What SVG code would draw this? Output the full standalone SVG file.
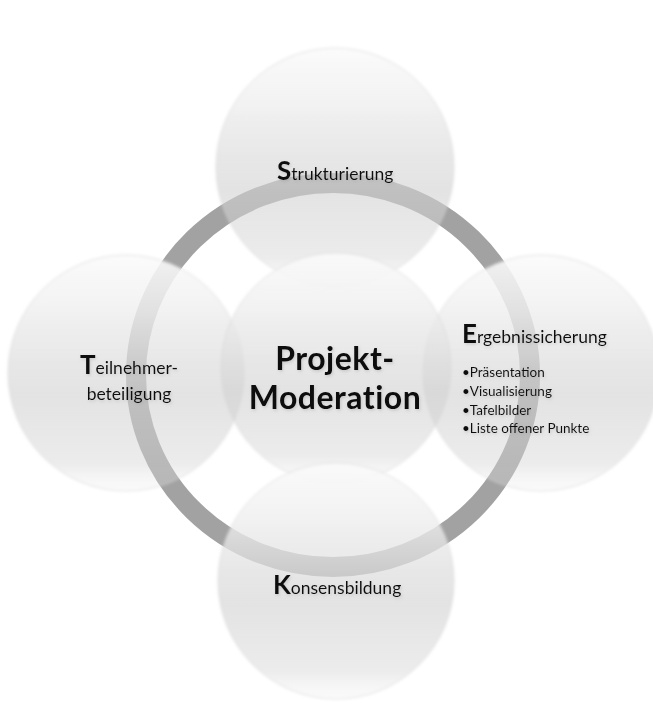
<svg xmlns="http://www.w3.org/2000/svg" width="653" height="714" viewBox="0 0 653 714">
  <defs>
    <linearGradient id="gFill" x1="0" y1="0" x2="0" y2="1">
      <stop offset="0" stop-color="#fbfbfb" stop-opacity="0.9"/>
      <stop offset="0.25" stop-color="#eeeeee" stop-opacity="0.82"/>
      <stop offset="0.6" stop-color="#d2d2d2" stop-opacity="0.62"/>
      <stop offset="0.88" stop-color="#d4d4d4" stop-opacity="0.45"/>
      <stop offset="1" stop-color="#eeeeee" stop-opacity="0.25"/>
    </linearGradient>
    <filter id="soft" x="-10%" y="-10%" width="120%" height="120%">
      <feGaussianBlur stdDeviation="1.4"/>
    </filter>
    <filter id="tshadow" x="-10%" y="-30%" width="120%" height="160%">
      <feDropShadow dx="1" dy="1.5" stdDeviation="1.5" flood-color="#808080" flood-opacity="0.3"/>
    </filter>
    <style>
      .circ { fill: url(#gFill); stroke: #d6d6d6; stroke-opacity: 0.7; stroke-width: 1; filter: url(#soft); }
      .lbl { font-family: Lato, "Liberation Sans", sans-serif; font-size: 17.5px; fill: #111111; filter: url(#tshadow); }
      .ini { font-weight: bold; font-size: 26px; }
      .bul { font-family: Lato, "Liberation Sans", sans-serif; font-size: 13.5px; fill: #111111; filter: url(#tshadow); }
      .title { font-family: Lato, "Liberation Sans", sans-serif; font-size: 32px; letter-spacing: 0.5px; font-weight: bold; fill: #0a0a0a; text-anchor: middle; filter: url(#tshadow); }
    </style>
  </defs>
  <rect x="0" y="0" width="653" height="714" fill="#ffffff"/>

  <g id="connectors">
    <ellipse cx="333" cy="375" rx="197" ry="192" fill="none" stroke="#a2a2a2" stroke-width="20"/>
  </g>

  <g id="node-top">
    <circle class="circ" cx="335" cy="167" r="119"/>
    <text class="lbl" x="277" y="180"><tspan class="ini">S</tspan>trukturierung</text>
  </g>

  <g id="node-left">
    <circle class="circ" cx="126" cy="373" r="118"/>
    <text class="lbl" text-anchor="middle"><tspan x="129" y="374"><tspan class="ini">T</tspan>eilnehmer-</tspan><tspan x="129" y="400">beteiligung</tspan></text>
  </g>

  <g id="node-right">
    <circle class="circ" cx="541" cy="373" r="118"/>
    <text class="lbl" x="462" y="343"><tspan class="ini">E</tspan>rgebnissicherung</text>
    <text class="bul"><tspan x="462" y="377">•Präsentation</tspan><tspan x="462" y="396">•Visualisierung</tspan><tspan x="462" y="415">•Tafelbilder</tspan><tspan x="462" y="433">•Liste offener Punkte</tspan></text>
  </g>

  <g id="node-center">
    <circle class="circ" cx="336" cy="368" r="115"/>
    <text class="title"><tspan x="335" y="370">Projekt-</tspan><tspan x="335" y="409">Moderation</tspan></text>
  </g>

  <g id="node-bottom">
    <circle class="circ" cx="336" cy="581" r="118"/>
    <text class="lbl" x="273" y="594"><tspan class="ini">K</tspan>onsensbildung</text>
  </g>
</svg>
